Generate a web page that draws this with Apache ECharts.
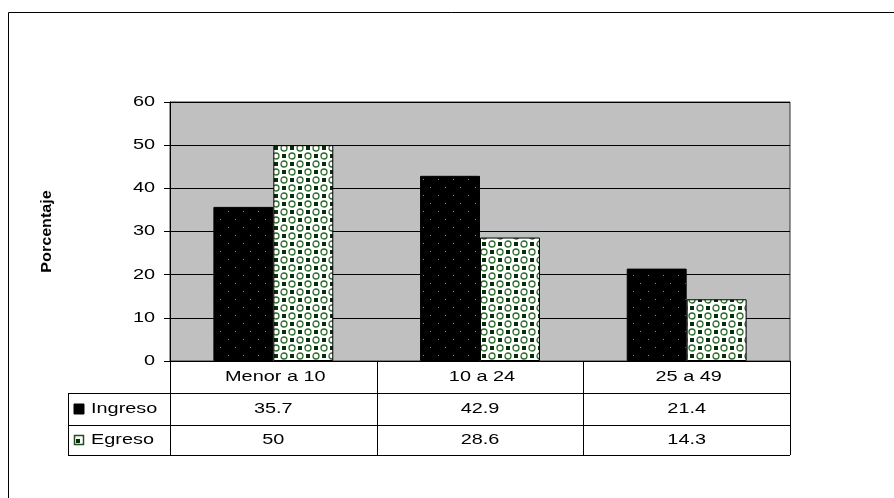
<!DOCTYPE html>
<html>
<head>
<meta charset="utf-8">
<script src="https://cdn.jsdelivr.net/npm/echarts@6/dist/echarts.min.js"></script>
<style>
  html, body { margin: 0; padding: 0; background: #fff; }
  #chart { width: 894px; height: 498px; }
</style>
</head>
<body>
<div id="chart"></div>
<script>
// Categories and series values
const categories = ['Menor a 10', '10 a 24', '25 a 49'];
const ingreso = [35.7, 42.9, 21.4];
const egreso = [50, 28.6, 14.3];
const seriesNames = ['Ingreso', 'Egreso'];
const yTicks = [0, 10, 20, 30, 40, 50, 60];

const FONT = '"Liberation Sans", Arial, sans-serif';
const TEXT_SCALE = 1.42; // wide-set lettering

// Black fill with staggered gray dots
function dotPattern() {
  const c = document.createElement('canvas');
  c.width = 15; c.height = 16;
  const g = c.getContext('2d');
  g.fillStyle = '#000';
  g.fillRect(0, 0, 15, 16);
  g.fillStyle = '#8a8a8a';
  g.fillRect(3, 3, 1, 1);
  g.fillRect(10, 11, 1, 1);
  return c;
}

// Checker of white rings and dark green squares
function circlePattern() {
  const c = document.createElement('canvas');
  c.width = 16; c.height = 16;
  const g = c.getContext('2d');
  g.fillStyle = '#ffffff';
  g.fillRect(0, 0, 16, 16);
  g.fillStyle = '#003300';
  g.fillRect(2, 2, 4, 4);
  g.fillRect(10, 10, 4, 4);
  g.strokeStyle = '#2e6b2e';
  g.lineWidth = 1.3;
  [[12, 4], [4, 12]].forEach(([cx, cy]) => {
    g.beginPath();
    g.arc(cx, cy, 3, 0, Math.PI * 2);
    g.stroke();
  });
  return c;
}

const ingresoFill = { image: dotPattern(), repeat: 'repeat' };
const egresoFill = { image: circlePattern(), repeat: 'repeat' };

const chart = echarts.init(document.getElementById('chart'), null, { renderer: 'canvas' });

const option = {
  backgroundColor: '#ffffff',
  animation: false,
  grid: {
    left: 170, right: 104, top: 102, bottom: 137,
    show: true, backgroundColor: '#c0c0c0', borderColor: '#333', borderWidth: 1
  },
  xAxis: {
    type: 'category',
    data: categories,
    axisLine: { show: true, lineStyle: { color: '#000', width: 1 } },
    axisTick: { show: false },
    axisLabel: { show: false },
    splitLine: { show: false }
  },
  yAxis: {
    type: 'value',
    min: yTicks[0], max: yTicks[yTicks.length - 1], interval: 10,
    axisLine: { show: true, lineStyle: { color: '#000', width: 1 } },
    axisTick: { show: true, length: 6, lineStyle: { color: '#000' } },
    axisLabel: { show: false },
    splitLine: { show: true, lineStyle: { color: '#000', width: 1 } }
  },
  series: [
    {
      name: seriesNames[0], type: 'bar', data: ingreso,
      barGap: '0%', barCategoryGap: '42%',
      itemStyle: { color: ingresoFill, borderColor: '#000', borderWidth: 1 }
    },
    {
      name: seriesNames[1], type: 'bar', data: egreso,
      itemStyle: { color: egresoFill, borderColor: '#000', borderWidth: 1 }
    }
  ]
};
chart.setOption(option);

function label(text, x, y, align, font, scaleX) {
  return {
    type: 'text', silent: true, x: x, y: y, scaleX: scaleX || TEXT_SCALE,
    style: { text: text, x: 0, y: 0, align: align, verticalAlign: 'middle', font: font, fill: '#000' }
  };
}

// Tick labels and data table, positioned from the axis scales
function buildTable() {
  const x0 = chart.convertToPixel({ xAxisIndex: 0 }, 0);
  const x1 = chart.convertToPixel({ xAxisIndex: 0 }, 1);
  const step = x1 - x0;
  const left = x0 - step / 2;
  const right = left + step * categories.length;
  const axisY = chart.convertToPixel({ yAxisIndex: 0 }, 0);
  const rowH = 32;
  const row1 = axisY + rowH;
  const row2 = row1 + rowH;
  const row3 = row2 + rowH - 2;
  const tableLeft = 68;
  const font = '14px ' + FONT;
  const line = (xa, ya, xb, yb) => ({
    type: 'line', silent: true,
    shape: { x1: xa, y1: ya, x2: xb, y2: yb },
    style: { stroke: '#000', lineWidth: 1 }
  });
  const els = [];
  // outer frame strokes
  els.push(line(8.5, 12.5, 894, 12.5));
  els.push(line(8.5, 12.5, 8.5, 498));

  // value-axis tick labels
  yTicks.forEach(t => {
    els.push(label(String(t), 155, chart.convertToPixel({ yAxisIndex: 0 }, t), 'right', font));
  });

  // vertical rules
  for (let i = 0; i <= categories.length; i++) {
    const x = Math.round(left + i * step) + 0.5;
    els.push(line(x, axisY, x, row3));
  }
  els.push(line(tableLeft + 0.5, row1, tableLeft + 0.5, row3));
  // horizontal rules
  [row1, row2, row3].forEach(y => els.push(line(tableLeft, Math.round(y) + 0.5, right, Math.round(y) + 0.5)));

  // category header row
  categories.forEach((c, i) => {
    els.push(label(c, left + step * (i + 0.5) + 2, (axisY + row1) / 2, 'center', font));
  });

  const rows = [ingreso, egreso];
  rows.forEach((vals, r) => {
    const yMid = (r === 0 ? (row1 + row2) / 2 : (row2 + row3) / 2);
    vals.forEach((v, i) => {
      els.push(label(String(v), left + step * (i + 0.5), yMid, 'center', font));
    });
    // legend key
    if (r === 0) {
      els.push({
        type: 'rect', silent: true,
        shape: { x: 74, y: yMid - 5, width: 10, height: 10 },
        style: { fill: '#000', stroke: '#000', lineWidth: 1 }
      });
    } else {
      els.push({
        type: 'rect', silent: true,
        shape: { x: 74.5, y: yMid - 4.5, width: 9, height: 9 },
        style: { fill: '#ffffff', stroke: '#1f4f1f', lineWidth: 1.5 }
      });
      els.push({
        type: 'rect', silent: true,
        shape: { x: 76, y: yMid - 1, width: 4, height: 4 },
        style: { fill: '#003300' }
      });
    }
    els.push(label(seriesNames[r], 91, yMid, 'left', font));
  });

  // value-axis title
  els.push({
    type: 'text', silent: true,
    x: 47, y: (chart.convertToPixel({ yAxisIndex: 0 }, 60) + axisY) / 2,
    rotation: Math.PI / 2, scaleX: 1.15,
    style: {
      text: 'Porcentaje', x: 0, y: 0,
      align: 'center', verticalAlign: 'middle',
      font: 'bold 14px ' + FONT, fill: '#000'
    }
  });

  chart.setOption({ graphic: { elements: els } });
}
buildTable();
</script>
</body>
</html>
